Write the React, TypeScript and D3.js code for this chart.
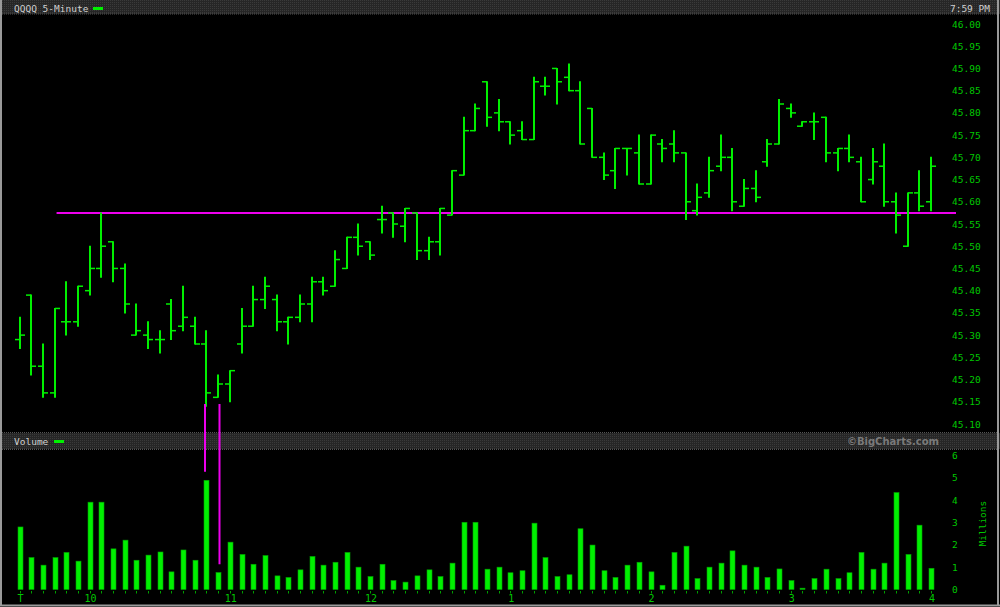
import React from 'react';
import * as d3 from 'd3';

// 5-minute bars, 9:30 .. 16:00
const times: string[] = d3.range(79).map((i) => {
  const m = 9 * 60 + 30 + i * 5;
  const h = Math.floor(m / 60);
  const mm = m % 60;
  return `${h}:${mm < 10 ? '0' + mm : mm}`;
});

const opens = [45.29,45.39,45.23,45.17,45.33,45.33,45.40,45.45,45.51,45.45,45.30,45.30,45.29,45.37,45.32,45.32,45.28,45.16,45.19,45.28,
45.32,45.38,45.38,45.33,45.34,45.37,45.42,45.41,45.45,45.52,45.51,45.56,45.575,45.545,45.575,45.49,45.51,45.57,45.66,45.76,
45.87,45.80,45.78,45.76,45.74,45.86,45.90,45.88,45.85,45.81,45.70,45.67,45.72,45.71,45.64,45.73,45.73,45.71,45.58,45.62,
45.68,45.70,45.59,45.63,45.69,45.73,45.81,45.77,45.78,45.79,45.71,45.72,45.69,45.65,45.68,45.60,45.50,45.62,45.60];

const highs = [45.34,45.39,45.28,45.36,45.42,45.41,45.50,45.575,45.51,45.46,45.37,45.33,45.31,45.38,45.41,45.34,45.31,45.21,45.22,45.36,
45.41,45.43,45.39,45.34,45.39,45.43,45.43,45.49,45.52,45.55,45.51,45.59,45.575,45.585,45.575,45.52,45.585,45.67,45.79,45.82,
45.87,45.83,45.78,45.78,45.88,45.88,45.90,45.91,45.87,45.81,45.71,45.72,45.72,45.75,45.75,45.74,45.76,45.71,45.64,45.70,
45.75,45.72,45.65,45.67,45.74,45.83,45.82,45.78,45.80,45.79,45.72,45.75,45.70,45.72,45.73,45.62,45.62,45.67,45.70];

const lows = [45.27,45.21,45.16,45.16,45.30,45.32,45.39,45.43,45.42,45.35,45.30,45.27,45.26,45.29,45.31,45.28,45.14,45.16,45.15,45.26,
45.32,45.36,45.31,45.28,45.33,45.33,45.39,45.41,45.45,45.48,45.47,45.53,45.52,45.51,45.47,45.47,45.48,45.57,45.66,45.76,
45.77,45.76,45.73,45.74,45.74,45.84,45.82,45.85,45.73,45.70,45.65,45.63,45.66,45.64,45.64,45.69,45.69,45.56,45.57,45.61,
45.67,45.58,45.59,45.60,45.68,45.73,45.79,45.77,45.74,45.69,45.67,45.69,45.60,45.64,45.59,45.53,45.50,45.58,45.58];

const closes = [45.30,45.23,45.17,45.36,45.33,45.41,45.45,45.50,45.45,45.37,45.31,45.29,45.29,45.31,45.34,45.28,45.17,45.19,45.22,45.32,
45.38,45.41,45.33,45.34,45.37,45.42,45.40,45.47,45.52,45.50,45.48,45.56,45.55,45.585,45.49,45.51,45.585,45.67,45.76,45.81,
45.79,45.78,45.75,45.74,45.87,45.86,45.87,45.85,45.73,45.70,45.66,45.72,45.72,45.64,45.75,45.72,45.71,45.60,45.61,45.67,
45.70,45.60,45.63,45.61,45.73,45.82,45.80,45.78,45.78,45.71,45.72,45.70,45.60,45.69,45.60,45.57,45.62,45.59,45.68];

// millions of shares
const volumes = [2.80,1.43,1.09,1.43,1.66,1.27,3.91,3.91,1.82,2.21,1.31,1.54,1.68,0.79,1.77,1.31,4.89,0.76,2.12,1.57,
1.13,1.52,0.61,0.54,0.88,1.48,1.09,1.22,1.66,1.00,0.58,1.13,0.40,0.33,0.61,0.88,0.58,1.18,3.01,3.01,
0.91,1.00,0.75,0.84,2.97,1.43,0.58,0.66,2.72,1.99,0.84,0.54,1.09,1.22,0.79,0.19,1.66,1.94,0.49,1.00,
1.18,1.73,1.09,1.00,0.54,0.92,0.40,0.06,0.49,0.91,0.49,0.75,1.66,0.91,1.18,4.34,1.57,2.88,0.95];

const priceTicks = [46.0,45.95,45.9,45.85,45.8,45.75,45.7,45.65,45.6,45.55,45.5,45.45,45.4,45.35,45.3,45.25,45.2,45.15,45.1];
const volumeTicks = [0,1,2,3,4,5,6];
const xLabelIdx = [0,6,18,30,42,54,66,78];
const xLabels = ['T','10','11','12','1','2','3','4'];

const supportLevel = 45.575;
const supportStartIdx = 3;
const markIdx = [16, 17];
const markPriceTop = 45.145;
const markVolBottom = [5.27, 1.13];

const W = 1000, H = 607;
const GREEN = '#00f000';
const TEXTGREEN = '#00c800';
const MAGENTA = '#ee00ee';
const FONT = '"DejaVu Sans Mono", "Liberation Mono", monospace';

export default function App() {
  const x = d3.scaleLinear().domain([0, 78]).range([19.5, 931]);
  const y = d3.scaleLinear().domain([45.1, 46.0]).range([424, 24]);
  const yv = d3.scaleLinear().domain([0, 6]).range([589.5, 455.5]);

  const rx = (i: number) => Math.round(x(i));

  return (
    <div style={{ position: 'absolute', left: 0, top: 0 }}>
      <svg width={W} height={H} style={{ display: 'block', background: '#000' }}>
        <defs>
          <pattern id="dots" width="2" height="2" patternUnits="userSpaceOnUse">
            <rect width="2" height="2" fill="#262626" />
            <rect width="1" height="1" fill="#3a3a3a" />
          </pattern>
        </defs>
        <rect x={0} y={0} width={W} height={H} fill="#000" />

        {/* top header band */}
        <rect x={0} y={0} width={W} height={14} fill="url(#dots)" />
        <line x1={0} x2={W} y1={14} y2={14} stroke="#555" strokeWidth={1} strokeDasharray="1 1" />
        <text x={14} y={12} fontFamily={FONT} fontSize={9.5} fill="#d0d0d0">QQQQ 5-Minute</text>
        <rect x={93} y={7} width={10} height={3} fill={GREEN} />
        <text x={990} y={12} fontFamily={FONT} fontSize={9.5} fill="#d0d0d0" textAnchor="end">7:59 PM</text>

        {/* volume header band */}
        <line x1={0} x2={W} y1={432.5} y2={432.5} stroke="#555" strokeWidth={1} strokeDasharray="1 1" />
        <rect x={0} y={433} width={W} height={16} fill="url(#dots)" />
        <line x1={0} x2={W} y1={449.5} y2={449.5} stroke="#555" strokeWidth={1} strokeDasharray="1 1" />
        <text x={14} y={445} fontFamily={FONT} fontSize={9.5} fill="#d0d0d0">Volume</text>
        <rect x={54} y={440} width={10} height={3} fill={GREEN} />
        <text x={939} y={445} fontFamily='"DejaVu Sans", sans-serif' fontSize={10} fontWeight="bold" fill="#7a7a7a" textAnchor="end">©BigCharts.com</text>

        {/* price axis labels */}
        {priceTicks.map((p) => (
          <text key={p} x={952} y={y(p) + 3.5} fontFamily={FONT} fontSize={9.5} fill={TEXTGREEN}>
            {p.toFixed(2)}
          </text>
        ))}

        {/* volume axis labels */}
        {volumeTicks.map((v) => (
          <text key={v} x={952} y={yv(v) + 3.5} fontFamily={FONT} fontSize={9.5} fill={TEXTGREEN}>
            {v}
          </text>
        ))}
        <text
          transform={`translate(986, ${yv(2.95)}) rotate(-90)`}
          textAnchor="middle"
          fontFamily={FONT}
          fontSize={9.5}
          fill={TEXTGREEN}
        >
          Millions
        </text>

        {/* support line */}
        <line x1={x(supportStartIdx) + 2} x2={956} y1={y(supportLevel)} y2={y(supportLevel)} stroke={MAGENTA} strokeWidth={2} />

        {/* OHLC bars */}
        {times.map((t, i) => {
          const cx = rx(i);
          return (
            <g key={t}>
              <line x1={cx} x2={cx} y1={y(highs[i]) - 0.5} y2={y(lows[i]) + 0.5} stroke={GREEN} strokeWidth={2} />
              <line x1={cx - 5} x2={cx} y1={y(opens[i])} y2={y(opens[i])} stroke={GREEN} strokeWidth={1.5} />
              <line x1={cx} x2={cx + 5} y1={y(closes[i])} y2={y(closes[i])} stroke={GREEN} strokeWidth={1.5} />
            </g>
          );
        })}

        {/* volume bars */}
        {volumes.map((v, i) => (
          <rect
            key={i}
            x={rx(i) - 2}
            y={yv(v)}
            width={5}
            height={Math.max(0.5, yv(0) - yv(v))}
            fill={GREEN}
            stroke="#00a000"
            strokeWidth={0.6}
          />
        ))}

        {/* x ticks */}
        {times.map((t, i) => (
          <line key={'t' + t} x1={rx(i) + 0.5} x2={rx(i) + 0.5} y1={591} y2={593.5} stroke="#00a000" strokeWidth={1} />
        ))}
        {xLabelIdx.map((idx, k) => (
          <text key={'l' + k} x={x(idx) + 1} y={602} textAnchor="middle" fontFamily={FONT} fontSize={10} fill={TEXTGREEN}>
            {xLabels[k]}
          </text>
        ))}

        {/* magenta markers linking price low and volume */}
        <line x1={rx(markIdx[0]) - 1} x2={rx(markIdx[0]) - 1} y1={y(markPriceTop)} y2={yv(markVolBottom[0])} stroke={MAGENTA} strokeWidth={2} />
        <line x1={rx(markIdx[1]) + 1.5} x2={rx(markIdx[1]) + 1.5} y1={y(markPriceTop)} y2={yv(markVolBottom[1])} stroke={MAGENTA} strokeWidth={2} />

        {/* frame */}
        <line x1={1} x2={1} y1={0} y2={606} stroke="#9a9a9a" strokeWidth={2} />
        <line x1={998} x2={998} y1={0} y2={606} stroke="#9a9a9a" strokeWidth={2} />
        <line x1={0} x2={W} y1={605.5} y2={605.5} stroke="#9a9a9a" strokeWidth={2} />
      </svg>
    </div>
  );
}
